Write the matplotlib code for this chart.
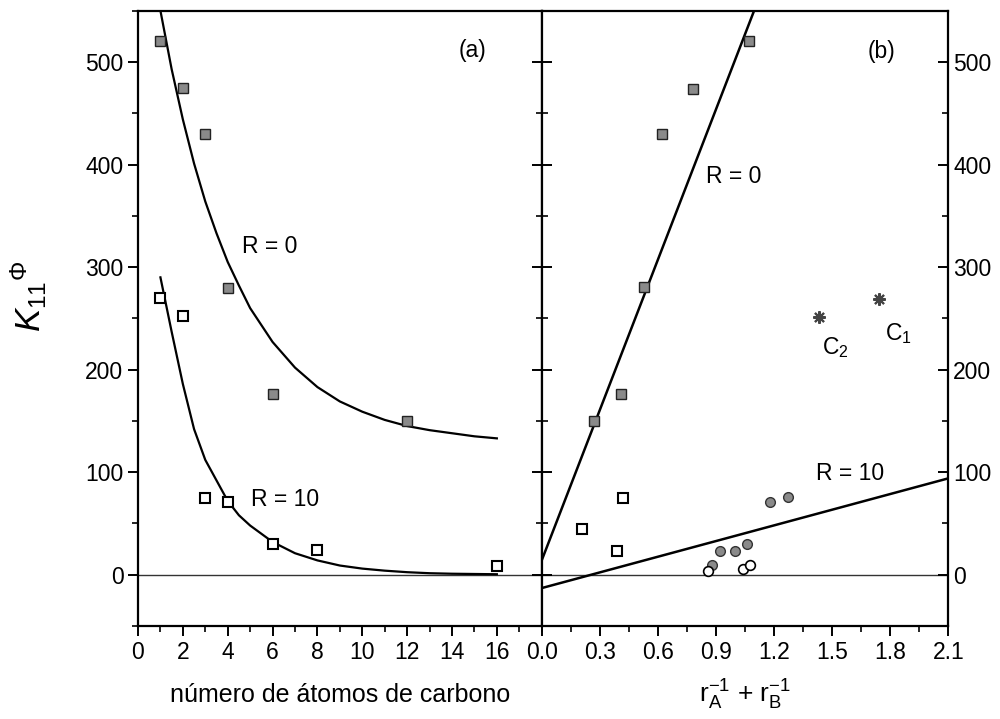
import matplotlib
matplotlib.use("Agg")
import matplotlib.pyplot as plt
from matplotlib.ticker import MultipleLocator

plt.rcParams['font.family'] = ['Liberation Sans', 'DejaVu Sans']
plt.rcParams['mathtext.fontset'] = 'custom'
plt.rcParams['mathtext.rm'] = 'Liberation Sans'
plt.rcParams['mathtext.it'] = 'Liberation Sans:italic'

# panel (a): K vs number of carbon atoms
carb_r0 = [1, 2, 3, 4, 6, 12]
k_r0 = [520, 475, 430, 280, 176, 150]
carb_r10 = [1, 2, 3, 4, 6, 8, 16]
k_r10 = [270, 252, 75, 71, 30, 24, 9]

# curves
curve0_x = [1.0, 1.5, 2.0, 2.5, 3.0, 3.5, 4.0, 4.5, 5.0, 6.0, 7.0, 8.0, 9.0, 10, 11, 12, 13, 14, 15, 16]
curve0_y = [550, 493, 444, 401, 364, 333, 305, 282, 260, 227, 202, 183, 169, 159, 151, 145, 141, 138, 135, 133]
curve10_x = [1.0, 1.5, 2.0, 2.5, 3.0, 3.5, 4.0, 4.5, 5.0, 6.0, 7.0, 8.0, 9.0, 10, 11, 12, 13, 14, 16]
curve10_y = [290, 237, 186, 142, 112, 92, 72, 58, 48, 32, 21, 14, 9, 6, 4, 2.5, 1.5, 1, 0.5]

# panel (b): K vs rA^-1 + rB^-1
r_sq0 = [0.27, 0.41, 0.53, 0.62, 0.78, 1.07]
k_sq0 = [150, 176, 281, 430, 474, 520]
r_sq10 = [0.21, 0.39, 0.42]
k_sq10 = [45, 23, 75]
r_fcirc = [0.88, 0.92, 1.00, 1.06, 1.18, 1.27]
k_fcirc = [10, 23, 23, 30, 71, 76]
r_ocirc = [0.86, 1.04, 1.075]
k_ocirc = [4, 6, 10]
r_star = [1.43, 1.74]
k_star = [251, 269]

line0_x = [0.0, 1.097]
line0_y = [14, 550]
line10_x = [0.0, 2.1]
line10_y = [-13, 94]

fig = plt.figure(figsize=(10, 7.19), dpi=100)
ax1 = fig.add_axes([0.138, 0.1293, 0.4037, 0.8558])
ax2 = fig.add_axes([0.5417, 0.1293, 0.4066, 0.8558])

fs = 16.5
for ax in (ax1, ax2):
    ax.set_ylim(-50, 550)
    ax.axhline(0, color='#333333', lw=1.0, zorder=1)
    for sp in ax.spines.values():
        sp.set_linewidth(1.6)
    ax.yaxis.set_major_locator(MultipleLocator(100))
    ax.yaxis.set_minor_locator(MultipleLocator(50))

# left panel
ax1.plot(curve0_x, curve0_y, color='black', lw=1.6, zorder=2)
ax1.plot(curve10_x, curve10_y, color='black', lw=1.6, zorder=2)
ax1.plot(carb_r0, k_r0, 's', ms=7.5, mfc='#8a8a8a', mec='#222222', mew=1.0, zorder=3)
ax1.plot(carb_r10, k_r10, 's', ms=6.5, mfc='white', mec='black', mew=1.5, zorder=3)
ax1.set_xlim(0, 18)
ax1.xaxis.set_minor_locator(MultipleLocator(1))
ax1.set_xticks(range(0, 17, 2))
ax1.tick_params(axis='both', which='major', direction='out', length=7, width=1.4, labelsize=fs)
ax1.tick_params(axis='both', which='minor', direction='out', length=4, width=1.2)
ax1.tick_params(axis='y', right=False, which='both')
ax1.text(5.85, 320, 'R = 0', fontsize=fs, ha='center', va='center')
ax1.text(6.56, 73, 'R = 10', fontsize=fs, ha='center', va='center')
ax1.text(14.9, 511, '(a)', fontsize=fs, ha='center', va='center')
ax1.set_xlabel('número de átomos de carbono', fontsize=18, labelpad=14)

# right panel
ax2.plot(line0_x, line0_y, color='black', lw=1.8, zorder=2)
ax2.plot(line10_x, line10_y, color='black', lw=1.8, zorder=2)
ax2.plot(r_sq0, k_sq0, 's', ms=7.5, mfc='#8a8a8a', mec='#222222', mew=1.0, zorder=3)
ax2.plot(r_sq10, k_sq10, 's', ms=6.5, mfc='white', mec='black', mew=1.5, zorder=3)
ax2.plot(r_fcirc, k_fcirc, 'o', ms=7, mfc='#8a8a8a', mec='#333333', mew=1.0, zorder=3)
ax2.plot(r_ocirc, k_ocirc, 'o', ms=7, mfc='white', mec='black', mew=1.2, zorder=3)
ax2.plot(r_star, k_star, marker=(8, 2, 0), ls='none', ms=9, mec='#444444', mew=1.5, zorder=3)
ax2.set_xlim(0, 2.1)
ax2.xaxis.set_major_locator(MultipleLocator(0.3))
ax2.xaxis.set_minor_locator(MultipleLocator(0.15))
ax2.xaxis.set_major_formatter(plt.FormatStrFormatter('%.1f'))
ax2.tick_params(axis='x', which='major', direction='out', length=7, width=1.4, labelsize=fs)
ax2.tick_params(axis='x', which='minor', direction='out', length=4, width=1.2)
ax2.tick_params(axis='y', which='major', left=True, right=True, labelleft=False,
                labelright=True, direction='in', length=7, width=1.4, labelsize=fs)
ax2.tick_params(axis='y', which='minor', left=True, right=True, direction='in', length=4, width=1.2)
# ticks crossing the shared spine
for t in ax2.yaxis.get_major_ticks():
    t.tick1line.set_marker('_')
    t.tick1line.set_markersize(15)
for t in ax2.yaxis.get_minor_ticks():
    t.tick1line.set_marker('_')
    t.tick1line.set_markersize(8)
ax2.text(0.994, 388, 'R = 0', fontsize=fs, ha='center', va='center')
ax2.text(1.595, 99, 'R = 10', fontsize=fs, ha='center', va='center')
ax2.text(1.756, 510, '(b)', fontsize=fs, ha='center', va='center')
ax2.text(1.517, 222, r'C$_\mathregular{2}$', fontsize=fs, ha='center', va='center')
ax2.text(1.843, 235, r'C$_\mathregular{1}$', fontsize=fs, ha='center', va='center')
ax2.set_xlabel(r'r$_\mathregular{A}^\mathregular{-1}$ + r$_\mathregular{B}^\mathregular{-1}$',
               fontsize=19, labelpad=10)

fig.text(0.029, 1 - 296 / 719, r'$K_{11}{}^{\Phi}$', fontsize=25, rotation=90,
         ha='center', va='center')

fig.savefig('out.png', dpi=100)
